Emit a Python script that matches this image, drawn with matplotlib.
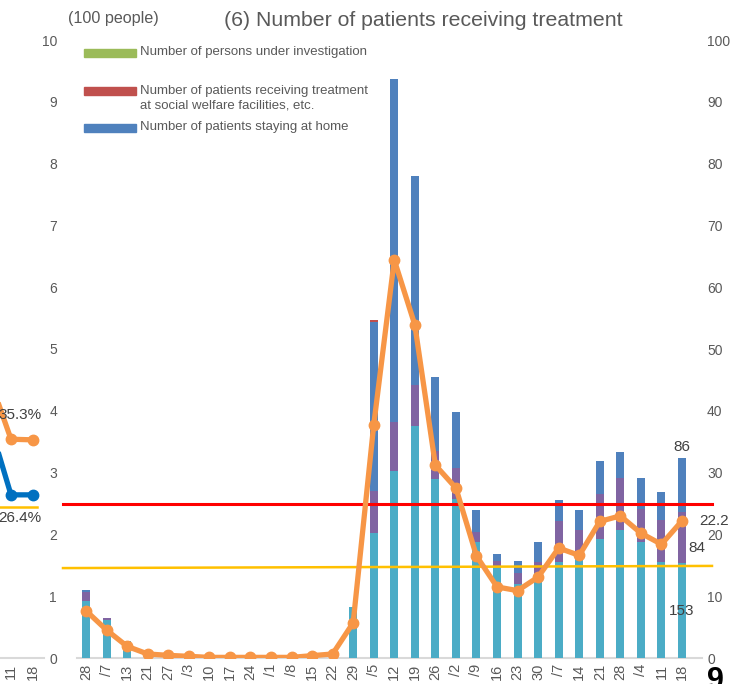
import matplotlib
matplotlib.use("Agg")
import matplotlib.pyplot as plt
from matplotlib.patches import Rectangle

plt.rcParams['font.family'] = ['Liberation Sans', 'DejaVu Sans']

# ---- data (main chart, unit: 100 people / %) ----
weeks = ["28", "/7", "13", "21", "27", "/3", "10", "17", "24", "/1",
         "/8", "15", "22", "29", "/5", "12", "19", "26", "/2", "/9",
         "16", "23", "30", "/7", "14", "21", "28", "/4", "11", "18"]
hospital = [0.92, 0.61, 0.27, 0.06, 0.03, 0.01, 0, 0, 0, 0,
            0, 0.02, 0.05, 0.83, 2.03, 3.03, 3.75, 2.90, 2.57, 1.87,
            1.48, 1.20, 1.37, 1.56, 1.61, 1.92, 2.07, 1.87, 1.55, 1.53]
hotel = [0.15, 0.03, 0, 0, 0, 0, 0, 0, 0, 0,
         0, 0, 0, 0, 0.67, 0.79, 0.66, 0.45, 0.51, 0.17,
         0.09, 0.17, 0.18, 0.66, 0.46, 0.73, 0.84, 0.54, 0.69, 0.84]
home = [0.03, 0, 0, 0, 0, 0, 0, 0, 0, 0,
        0, 0, 0, 0, 2.73, 5.55, 3.39, 1.19, 0.90, 0.35,
        0.11, 0.20, 0.33, 0.34, 0.33, 0.54, 0.43, 0.51, 0.44, 0.86]
welfare = [0] * 14 + [0.04] + [0] * 15
investigation = [0] * 30
bed_rate = [7.65, 4.53, 1.89, 0.65, 0.43, 0.27, 0.1, 0.1, 0.1, 0.1,
            0.1, 0.38, 0.65, 5.7, 37.7, 64.4, 53.9, 31.2, 27.5, 16.5,
            11.5, 10.9, 13.1, 17.8, 16.6, 22.1, 23.0, 20.2, 18.4, 22.2]
red_level = 2.5
yellow_level = [1.455, 1.49]

# ---- data (fragment of the neighbouring chart on the left) ----
frag_weeks = ["11", "18"]
frag_orange = [45.5, 35.4, 35.3]
frag_blue = [38.3, 26.4, 26.4]
frag_yellow = 24.5

W, H = 739, 684
grey = '#595959'
dark = '#404040'
c_hosp, c_hotel, c_home = '#4BACC6', '#8064A2', '#4F81BD'
c_welf, c_inv = '#C0504D', '#9BBB59'
orange = '#F79646'

fig = plt.figure(figsize=(W / 100, H / 100), dpi=100)

def fx(px):
    return px / W

def fy(py):
    return 1 - py / H

# main axes: plot area from x=63 to 702 px, y=40 to 658 px
ax = fig.add_axes([fx(63), fy(658), (702 - 63) / W, (658 - 40) / H])
step = (682 - 86) / 29
x0 = -(86 - 63) / step
x1 = 29 + (702 - 682) / step
x_ext = 29 + (712 - 682) / step
ax.set_xlim(x0, x1)
ax.set_ylim(0, 10)

x = list(range(len(weeks)))
bw = 0.39
b1 = [a + b for a, b in zip(hospital, hotel)]
b2 = [a + b for a, b in zip(b1, home)]
b3 = [a + b for a, b in zip(b2, welfare)]
ax.bar(x, hospital, bw, color=c_hosp, zorder=2)
ax.bar(x, hotel, bw, bottom=hospital, color=c_hotel, zorder=2)
ax.bar(x, home, bw, bottom=b1, color=c_home, zorder=2)
ax.bar(x, welfare, bw, bottom=b2, color=c_welf, zorder=2)
ax.bar(x, investigation, bw, bottom=b3, color=c_inv, zorder=2)

ax.plot([x0, x_ext], [red_level, red_level], color='#FF0000', lw=2.2,
        zorder=3, clip_on=False)
ax.plot([x0, x_ext], yellow_level, color='#FFC000', lw=1.8,
        zorder=3, clip_on=False)
ax.plot([-(86 - 77) / step, x1], [0, 0], color='#D9D9D9', lw=1.5,
        zorder=1, clip_on=False)

for s in ax.spines.values():
    s.set_visible(False)
ax.set_xticks(x)
ax.set_xticklabels(weeks, rotation=90, fontsize=10.5, color=grey)
ax.set_yticks(range(11))
ax.tick_params(axis='x', length=0, pad=4.3)
ax.tick_params(axis='y', length=0, pad=4.3, labelsize=10, labelcolor=grey)

# data labels on the last bar
ax.annotate(f"{round(home[-1] * 100)}", (29, b2[-1]), xytext=(0, 3),
            textcoords='offset points', ha='center', va='bottom',
            fontsize=11, color=dark)
ax.text(29.3, 1.78, f"{round(hotel[-1] * 100)}", ha='left', va='center',
        fontsize=11, color=dark)
ax.text(29, hospital[-1] / 2, f"{round(hospital[-1] * 100)}", ha='center',
        va='center', fontsize=11, color=dark)

ax2 = ax.twinx()
ax2.set_ylim(0, 100)
ax2.plot(x, bed_rate, color=orange, lw=3.8, marker='o', ms=7.5,
         solid_capstyle='round', solid_joinstyle='round')
ax2.text(29.85, bed_rate[-1], f"{bed_rate[-1]}", ha='left', va='center',
         fontsize=11, color=dark)
for s in ax2.spines.values():
    s.set_visible(False)
ax2.set_yticks(range(0, 101, 10))
ax2.tick_params(axis='y', length=0, pad=3.6, labelsize=10, labelcolor=grey)

# fragment of the previous chart on the far left
axf = fig.add_axes([0, fy(658), 44 / W, (658 - 40) / H])
axf.set_xlim(-0.5, 1.5)
axf.set_ylim(0, 100)
axf.axis('off')
axf.plot([-0.5, 1.5], [0, 0], color='#D9D9D9', lw=1.5, clip_on=False)
axf.plot([-0.5, 1.18], [frag_yellow, frag_yellow], color='#FFC000', lw=1.8)
axf.plot([-1, 0, 1], frag_orange, color=orange, lw=3.8, marker='o', ms=7.5)
axf.plot([-1, 0, 1], frag_blue, color='#0070C0', lw=3.8, marker='o', ms=7.5)
axf.text(0.41, 39.3, f"{frag_orange[-1]}%", ha='center', va='center',
         fontsize=11, color=dark)
axf.text(0.41, 22.7, f"{frag_blue[-1]}%", ha='center', va='center',
         fontsize=11, color=dark)
for i, lab in enumerate(frag_weeks):
    axf.text(i, -1, lab, rotation=90, ha='center', va='top', fontsize=10.5,
             color=grey, clip_on=False)

# titles
fig.text(fx(423), fy(20), "(6) Number of patients receiving treatment",
         ha='center', va='center', fontsize=15.3, color=grey)
fig.text(fx(68), fy(18), "(100 people)", ha='left', va='center',
         fontsize=11.6, color=grey)

# legend
legend_items = [
    (c_inv, 53, "Number of persons under investigation", 52.5),
    (c_welf, 90.5, "Number of patients receiving treatment\n"
                   "at social welfare facilities, etc.", 98.5),
    (c_home, 127.5, "Number of patients staying at home", 127),
]
for color, py, label, ty in legend_items:
    fig.add_artist(Rectangle((fx(84), fy(py + 4)), 52 / W, 8 / H,
                             color=color, transform=fig.transFigure))
    fig.text(fx(140), fy(ty), label, ha='left', va='center', fontsize=9.55,
             color=grey, linespacing=1.3)

# cut-off page number (cropped by the page edge, as in the source)
fig.text(fx(707), fy(666), "9", ha='left', va='top', fontsize=22,
         fontweight='bold', color='black')

fig.savefig("out.png", dpi=100)
